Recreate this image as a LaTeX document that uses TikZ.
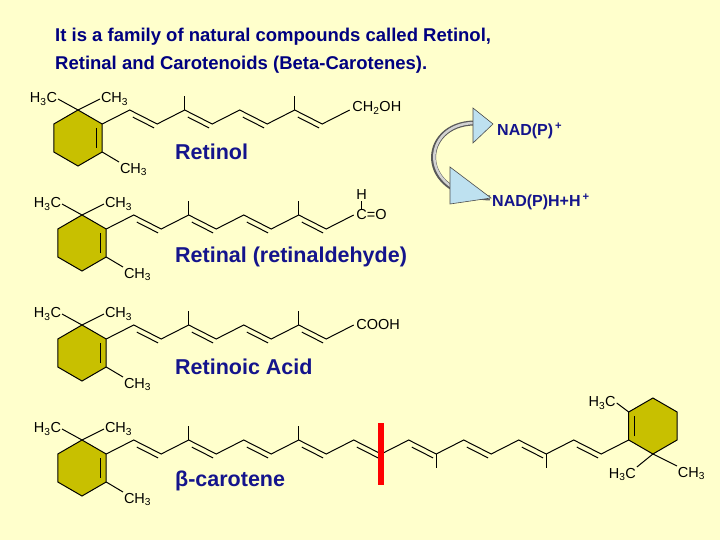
\documentclass[tikz,border=0pt]{standalone}
\usepackage{fontspec}
\setmainfont{Liberation Sans}
\usetikzlibrary{calc}
\definecolor{bg}{RGB}{255,255,204}
\definecolor{ringc}{RGB}{200,192,0}
\definecolor{lbl}{RGB}{20,20,140}
\definecolor{ttl}{RGB}{0,0,128}
\definecolor{arrfill}{RGB}{190,225,240}
\tikzset{
  atom/.style={inner sep=0.5pt,font=\fontsize{14.5}{14.5}\selectfont},
  bond/.style={line width=1pt,black},
  ringst/.style={line width=1pt,draw=black,fill=ringc},
  mlabel/.style={anchor=west,text=lbl,font=\fontsize{21.5}{21.5}\selectfont\bfseries,inner sep=0pt},
  nad/.style={text=lbl,font=\fontsize{16}{16}\selectfont\bfseries,inner sep=0pt,anchor=west},
  tri/.style={draw=black!70,fill=arrfill,line width=0.6pt}
}
\newcommand\mkchain[1]{%
  \foreach \i in {0,...,#1}{%
    \pgfmathsetmacro\xx{102.2+\i*27.5}%
    \pgfmathsetmacro\yy{mod(\i,2)==0?124:110}%
    \coordinate (c\i) at (\xx,\yy);}%
  \draw[bond] (c0) foreach \i in {1,...,#1}{ -- (c\i)};
}
\newcommand\dbl[2]{\draw[bond] ($(c#1)!3.5pt!(c#2)+(0,5.5)$) -- ($(c#2)!3.5pt!(c#1)+(0,5.5)$);}
\newcommand\leftring{%
  \filldraw[ringst] (78,110) coordinate (rt)--(102.2,124)--(102.2,152) coordinate (rlr)--(78,166)--(53.8,152)--(53.8,124)--cycle;
  \draw[bond] (96.7,128)--(96.7,148);
  \draw[bond] (rt) -- (58,99) node[atom,anchor=east] (hA) {H\textsubscript{3}C};
  \draw[bond] (rt) -- (100,99) node[atom,anchor=west] (hB) {CH\textsubscript{3}};
  \draw[bond] (rlr) -- (119,162) node[atom,anchor=north west] (hC) {CH\textsubscript{3}};
}
\newcommand\retinoid{%
  \leftring
  \mkchain{9}
  \dbl12 \dbl34 \dbl56 \dbl78
  \draw[bond] (c3) -- ++(0,-14);
  \draw[bond] (c7) -- ++(0,-14);
}
\begin{document}
\begin{tikzpicture}[x=1pt,y=-1pt]
\fill[bg] (0,0) rectangle (720,540);
\useasboundingbox (0,0) rectangle (720,540);
% title
\node[anchor=west,text=ttl,font=\fontsize{18.5}{18.5}\selectfont\bfseries,inner sep=0pt] (t1) at (55,37) {It is a family of natural compounds called Retinol,};
\node[anchor=west,text=ttl,font=\fontsize{18.5}{18.5}\selectfont\bfseries,inner sep=0pt] (t2) at (55,65) {Retinal and Carotenoids (Beta-Carotenes).};
% row 1 retinol
\begin{scope}
  \retinoid
  \node[atom,anchor=west] (oh) at ($(c9)+(2,-2)$) {CH\textsubscript{2}OH};
  \node[mlabel] (n1) at (175,152) {Retinol};
\end{scope}
% row 2 retinal
\begin{scope}[shift={(4,105)}]
  \retinoid
  \node[atom,anchor=west] (co) at ($(c9)+(2,0)$) {C=O};
  \draw[bond] ($(c9)+(8,-6)$) -- ($(c9)+(8,-14)$) node[atom,anchor=south] (hh) {H};
  \node[mlabel] (n2) at (171,152) {Retinal (retinaldehyde)};
\end{scope}
% row 3 retinoic acid
\begin{scope}[shift={(4,215)}]
  \retinoid
  \node[atom,anchor=west] (cooh) at ($(c9)+(2,0)$) {COOH};
  \node[mlabel] (n3) at (171,152) {Retinoic Acid};
\end{scope}
% row 4 beta-carotene
\begin{scope}[shift={(4,330)}]
  \leftring
  \mkchain{19}
  \dbl12 \dbl34 \dbl56 \dbl78 \dbl{9}{10} \dbl{11}{12} \dbl{13}{14} \dbl{15}{16} \dbl{17}{18}
  \draw[bond] (c3) -- ++(0,-14);
  \draw[bond] (c7) -- ++(0,-14);
  \draw[bond] (c12) -- ++(0,14);
  \draw[bond] (c16) -- ++(0,14);
  % right ring
  \filldraw[ringst] (c19) -- ++(0,-28) coordinate (qul) -- ++(24.2,-14) coordinate (qt) -- ++(24.2,14) -- ++(0,28) -- ++(-24.2,14) coordinate (qb) -- cycle;
  \draw[bond] ($(c19)+(5.5,-4)$) -- ($(qul)+(5.5,4)$);
  \draw[bond] (qul) -- ++(-12,-9) node[atom,anchor=east] (r1) {H\textsubscript{3}C};
  \draw[bond] (qb) -- ++(-16,13) node[atom,anchor=north east] (r2) {H\textsubscript{3}C};
  \draw[bond] (qb) -- ++(24,12) node[atom,anchor=north west] (r3) {CH\textsubscript{3}};
  \node[mlabel] (n4) at (171,151) {β-carotene};
\end{scope}
\fill[red] (378,423) rectangle (384,485);
% NAD arrow
\node[nad] (nadp) at (497,131) {NAD(P)\textsuperscript{\,+}};
\node[nad] (nadph) at (492,202) {NAD(P)H+H\textsuperscript{\,+}};
\draw[line width=5pt,gray!70!black] (474,123) .. controls (420,124) and (415,195) .. (490,198);
\draw[line width=2.5pt,gray!35] (474,123) .. controls (421,124) and (416,194) .. (490,198);
\filldraw[tri] (473,108) -- (493,124) -- (473,143) -- cycle;
\filldraw[tri] (450,167) -- (491,198) -- (450,204) -- cycle;
\end{tikzpicture}
\end{document}
